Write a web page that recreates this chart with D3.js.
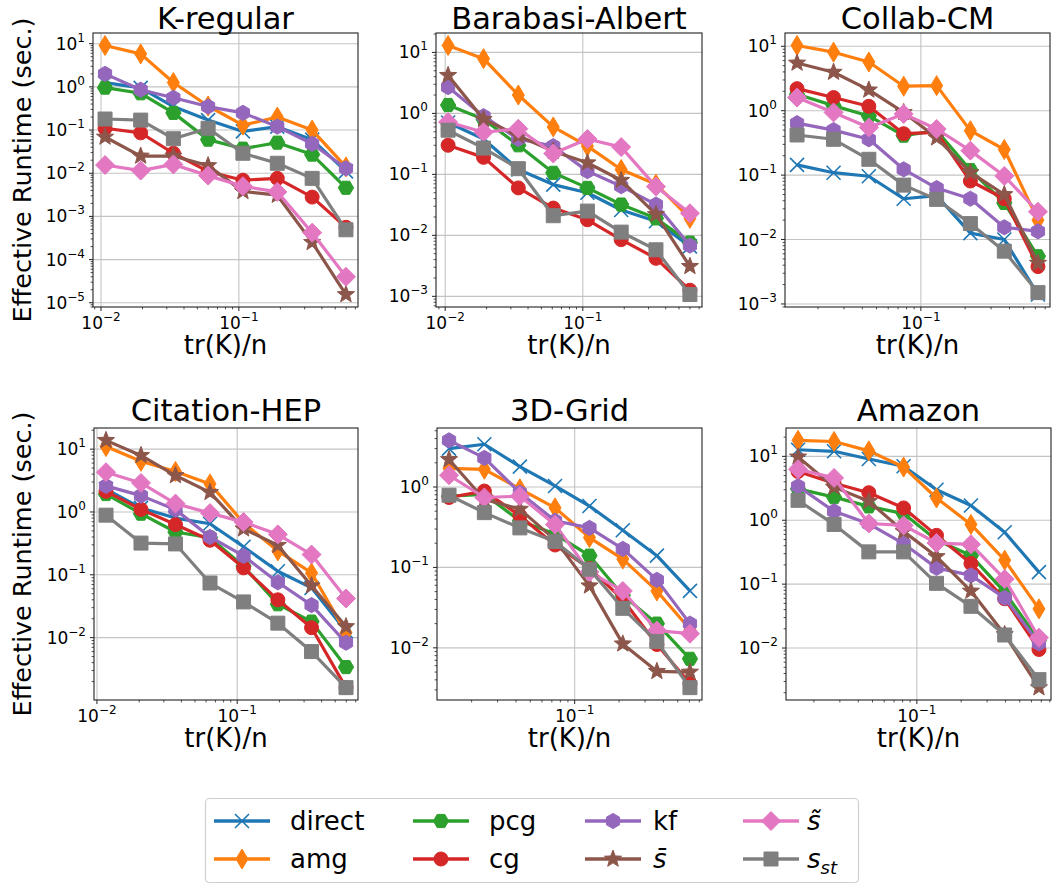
<!DOCTYPE html>
<html><head><meta charset="utf-8">
<script src="https://cdn.jsdelivr.net/npm/d3@7"></script>
<style>body{margin:0;background:#fff} text{font-family:"DejaVu Sans",sans-serif;fill:#000}</style>
</head><body><svg id="c" width="1055" height="886"></svg>
<script>
const seriesKeys = ["direct","amg","pcg","cg","kf","sbar","stilde","sst"];
const seriesColors = ["#1f77b4","#ff7f0e","#2ca02c","#d62728","#9467bd","#8c564b","#e377c2","#7f7f7f"];
const seriesMarkers = ["x","thinDiamond","hexFlat","circle","hexPointy","star","diamond","square"];
const panelTitles = ["K-regular","Barabasi-Albert","Collab-CM","Citation-HEP","3D-Grid","Amazon"];

const kRegular = {
  x:      [0.0107,0.0194,0.0335,0.0598,0.107,0.19,0.34,0.598],
  direct: [1.25,0.95,0.35,0.17,0.093,0.12,0.06,0.011],
  amg:    [9.1,5.8,1.26,0.36,0.13,0.2,0.1,0.014],
  pcg:    [0.96,0.71,0.25,0.06,0.037,0.051,0.027,0.0046],
  cg:     [0.11,0.086,0.029,0.011,0.0069,0.0076,0.0028,0.00056],
  kf:     [2.0,0.86,0.56,0.35,0.25,0.12,0.048,0.013],
  sbar:   [0.069,0.025,0.025,0.015,0.0038,0.0031,0.00025,0.0000155],
  stilde: [0.0155,0.0115,0.016,0.0088,0.005,0.0037,0.00042,0.00004],
  sst:    [0.18,0.17,0.063,0.11,0.029,0.017,0.0076,0.00049]
};
const barabasiAlbert = {
  x:      [0.0105,0.019,0.034,0.061,0.108,0.19,0.34,0.6],
  direct: [0.71,0.38,0.12,0.068,0.05,0.026,0.017,0.0066],
  amg:    [13,7.9,2.0,0.6,0.29,0.12,0.069,0.019],
  pcg:    [1.37,0.8,0.3,0.106,0.06,0.032,0.019,0.0076],
  cg:     [0.3,0.19,0.06,0.028,0.018,0.0085,0.0042,0.00126],
  kf:     [2.7,0.9,0.38,0.29,0.113,0.064,0.032,0.0068],
  sbar:   [4.2,0.8,0.43,0.24,0.155,0.08,0.022,0.0031],
  stilde: [0.72,0.49,0.56,0.22,0.38,0.28,0.063,0.023],
  sst:    [0.53,0.27,0.124,0.021,0.025,0.0113,0.0058,0.00107]
};
const collabCM = {
  x:      [0.0144,0.0255,0.0443,0.0764,0.128,0.217,0.369,0.625],
  direct: [0.144,0.109,0.096,0.043,0.048,0.0126,0.01,0.0014],
  amg:    [10.3,8.1,5.7,2.4,2.45,0.49,0.25,0.02],
  pcg:    [1.8,1.2,0.83,0.41,0.49,0.12,0.037,0.0055],
  cg:     [2.2,1.6,1.17,0.44,0.46,0.081,0.043,0.0038],
  kf:     [0.64,0.5,0.36,0.123,0.063,0.043,0.0155,0.0134],
  sbar:   [5.5,3.96,2.1,0.94,0.38,0.11,0.05,0.0043],
  stilde: [1.6,0.94,0.55,0.89,0.52,0.24,0.097,0.027],
  sst:    [0.42,0.36,0.176,0.07,0.042,0.0177,0.0066,0.0015]
};
const citationHEP = {
  x:      [0.0116,0.0206,0.0363,0.064,0.111,0.195,0.339,0.597],
  direct: [2.3,1.16,0.8,0.65,0.28,0.114,0.062,0.0126],
  amg:    [11,6.4,4.4,2.8,0.67,0.24,0.107,0.012],
  pcg:    [1.93,0.94,0.48,0.39,0.137,0.034,0.018,0.0034],
  cg:     [2.13,1.1,0.63,0.355,0.129,0.04,0.0144,0.0016],
  kf:     [2.6,1.82,1.09,0.4,0.2,0.076,0.033,0.0083],
  sbar:   [13.8,7.95,3.8,2.05,0.54,0.295,0.067,0.015],
  stilde: [4.3,2.9,1.36,0.96,0.69,0.44,0.21,0.042],
  sst:    [0.89,0.32,0.31,0.074,0.037,0.017,0.006,0.0016]
};
const grid3D = {
  x:      [0.01406,0.0244,0.0425,0.0736,0.126,0.212,0.361,0.605],
  direct: [3.0,3.4,1.79,1.03,0.58,0.29,0.14,0.051],
  amg:    [1.7,1.66,0.95,0.55,0.235,0.127,0.051,0.017],
  pcg:    [0.77,0.81,0.38,0.26,0.14,0.045,0.02,0.0073],
  cg:     [0.74,0.89,0.44,0.19,0.097,0.04,0.011,0.0036],
  kf:     [3.8,2.3,0.85,0.38,0.31,0.17,0.07,0.02],
  sbar:   [2.2,0.7,0.53,0.22,0.059,0.0112,0.0051,0.005],
  stilde: [1.4,0.74,0.77,0.34,0.088,0.051,0.0164,0.015],
  sst:    [0.79,0.48,0.31,0.21,0.095,0.031,0.012,0.0032]
};
const amazon = {
  x:      [0.0156,0.0274,0.0472,0.0813,0.136,0.233,0.395,0.675],
  direct: [12.7,12,9.1,7.0,3.0,1.7,0.65,0.154],
  amg:    [17.8,17.1,12.2,6.8,2.23,0.86,0.237,0.041],
  pcg:    [3.1,2.3,1.65,1.27,0.49,0.28,0.075,0.0133],
  cg:     [5.8,3.8,2.7,1.56,0.58,0.21,0.059,0.0095],
  kf:     [3.4,1.38,0.88,0.43,0.18,0.137,0.061,0.0118],
  sbar:   [9.8,3.3,1.98,0.67,0.27,0.078,0.0163,0.0024],
  stilde: [6.3,4.6,0.89,0.83,0.44,0.42,0.12,0.0145],
  sst:    [2.05,0.86,0.32,0.32,0.103,0.045,0.016,0.0032]
};
const panelData = [kRegular, barabasiAlbert, collabCM, citationHEP, grid3D, amazon];
const xLabel = "tr(K)/n";
const yLabel = "Effective Runtime (sec.)";

// ---------- layout ----------
const boxes = [
  {x:93, y:33, w:265, h:274},{x:436, y:33, w:266, h:274},{x:785, y:33, w:265, h:274},
  {x:94, y:428, w:264, h:272},{x:437, y:428, w:265, h:272},{x:786, y:428, w:265, h:272}
];
const svg = d3.select("#c");
const TICK_FS = 17, SUP_FS = 12;

function markerPath(type){
  const p = d3.path();
  if(type==="x"){ const r=7; p.moveTo(-r,-r);p.lineTo(r,r);p.moveTo(-r,r);p.lineTo(r,-r); }
  else if(type==="thinDiamond"){ const h=10,w=6; p.moveTo(0,-h);p.lineTo(w,0);p.lineTo(0,h);p.lineTo(-w,0);p.closePath(); }
  else if(type==="diamond"){ const h=9.5; p.moveTo(0,-h);p.lineTo(h,0);p.lineTo(0,h);p.lineTo(-h,0);p.closePath(); }
  else if(type==="square"){ const s=7; p.rect(-s,-s,2*s,2*s); }
  else if(type==="circle"){ p.arc(0,0,7,0,2*Math.PI); p.closePath(); }
  else if(type==="hexPointy"||type==="hexFlat"){ const R=7.6, off=type==="hexPointy"?-Math.PI/2:0;
    for(let k=0;k<6;k++){const a=off+k*Math.PI/3; if(k===0)p.moveTo(R*Math.cos(a),R*Math.sin(a)); else p.lineTo(R*Math.cos(a),R*Math.sin(a));} p.closePath(); }
  else if(type==="star"){ const R=9, r=3.8;
    for(let k=0;k<10;k++){const a=-Math.PI/2+k*Math.PI/5, rr=k%2?r:R; if(k===0)p.moveTo(rr*Math.cos(a),rr*Math.sin(a)); else p.lineTo(rr*Math.cos(a),rr*Math.sin(a));} p.closePath(); }
  return p.toString();
}
function drawMarker(g, type, color, x, y){
  const m = g.append("path").attr("d", markerPath(type)).attr("transform",`translate(${x},${y})`);
  if(type==="x") m.attr("fill","none").attr("stroke",color).attr("stroke-width",1.6);
  else m.attr("fill",color).attr("stroke",color).attr("stroke-width",1);
}
function supLabel(sel, exp){
  sel.append("tspan").text("10");
  sel.append("tspan").attr("font-size",SUP_FS).attr("dy",-8).text(exp<0?"\u2212"+(-exp):String(exp));
}
function logDomain(vals){
  const lo=Math.log10(d3.min(vals)), hi=Math.log10(d3.max(vals)), pad=(hi-lo)*0.05;
  return [Math.pow(10,lo-pad), Math.pow(10,hi+pad)];
}

panelData.forEach((pd, i) => {
  const b = boxes[i];
  const allY = seriesKeys.flatMap(k => pd[k]);
  const xs = d3.scaleLog().domain(logDomain(pd.x)).range([b.x, b.x+b.w]);
  const ys = d3.scaleLog().domain(logDomain(allY)).range([b.y+b.h, b.y]);
  const g = svg.append("g");
  const [x0,x1] = xs.domain(), [y0,y1] = ys.domain();
  const majX=[], minX=[], majY=[], minY=[];
  for(let d=Math.floor(Math.log10(x0)); d<=Math.ceil(Math.log10(x1)); d++){
    for(let k=1;k<10;k++){const v=k*Math.pow(10,d); if(v>=x0&&v<=x1)(k===1?majX:minX).push(v);} }
  for(let d=Math.floor(Math.log10(y0)); d<=Math.ceil(Math.log10(y1)); d++){
    for(let k=1;k<10;k++){const v=k*Math.pow(10,d); if(v>=y0&&v<=y1)(k===1?majY:minY).push(v);} }
  // grid
  majX.forEach(v=>g.append("line").attr("x1",xs(v)).attr("x2",xs(v)).attr("y1",b.y).attr("y2",b.y+b.h).attr("stroke","#c4c4c4").attr("stroke-width",1.1));
  majY.forEach(v=>g.append("line").attr("y1",ys(v)).attr("y2",ys(v)).attr("x1",b.x).attr("x2",b.x+b.w).attr("stroke","#c4c4c4").attr("stroke-width",1.1));
  // series
  const line = d3.line().x((d,j)=>xs(pd.x[j])).y(d=>ys(d));
  seriesKeys.forEach((k, si) => {
    g.append("path").attr("d", line(pd[k])).attr("fill","none").attr("stroke",seriesColors[si]).attr("stroke-width",3.2).attr("stroke-linejoin","round");
    pd[k].forEach((v,j)=>drawMarker(g, seriesMarkers[si], seriesColors[si], xs(pd.x[j]), ys(v)));
  });
  // frame
  g.append("rect").attr("x",b.x).attr("y",b.y).attr("width",b.w).attr("height",b.h).attr("fill","none").attr("stroke","#222").attr("stroke-width",1.1);
  // ticks
  const by=b.y+b.h;
  majX.forEach(v=>{ g.append("line").attr("x1",xs(v)).attr("x2",xs(v)).attr("y1",by).attr("y2",by+4).attr("stroke","#222").attr("stroke-width",1);
    const t=g.append("text").attr("x",xs(v)).attr("y",by+22).attr("text-anchor","middle").attr("font-size",TICK_FS); supLabel(t, Math.round(Math.log10(v))); });
  minX.forEach(v=>g.append("line").attr("x1",xs(v)).attr("x2",xs(v)).attr("y1",by).attr("y2",by+2.4).attr("stroke","#222").attr("stroke-width",0.8));
  majY.forEach(v=>{ g.append("line").attr("x1",b.x-4).attr("x2",b.x).attr("y1",ys(v)).attr("y2",ys(v)).attr("stroke","#222").attr("stroke-width",1);
    const t=g.append("text").attr("x",b.x-8).attr("y",ys(v)+6).attr("text-anchor","end").attr("font-size",TICK_FS); supLabel(t, Math.round(Math.log10(v))); });
  minY.forEach(v=>g.append("line").attr("x1",b.x-2.4).attr("x2",b.x).attr("y1",ys(v)).attr("y2",ys(v)).attr("stroke","#222").attr("stroke-width",0.8));
  // titles & labels
  g.append("text").attr("x",b.x+b.w/2).attr("y",i<3?28.5:421).attr("text-anchor","middle").attr("font-size",30.5).text(panelTitles[i]);
  g.append("text").attr("x",b.x+b.w/2).attr("y",by+47).attr("text-anchor","middle").attr("font-size",26).text(xLabel);
  if(i%3===0) g.append("text").attr("transform",`translate(31,${b.y+b.h/2}) rotate(-90)`).attr("text-anchor","middle").attr("font-size",25.5).text(yLabel);
});

// ---------- legend ----------
const lg = svg.append("g");
lg.append("rect").attr("x",205.5).attr("y",798.5).attr("width",653).attr("height",84).attr("rx",4).attr("fill","#fff").attr("stroke","#cfcfcf").attr("stroke-width",1.2);
const legCols = [214, 413, 585, 743];
const legText = [290, 489, 653, 807];
const legRows = [821, 859];
seriesKeys.forEach((k, si) => {
  const c = Math.floor(si/2), cx = legCols[c], cy = legRows[si%2];
  lg.append("line").attr("x1",cx).attr("x2",cx+56).attr("y1",cy).attr("y2",cy).attr("stroke",seriesColors[si]).attr("stroke-width",3.6);
  drawMarker(lg, seriesMarkers[si], seriesColors[si], cx+28, cy);
  const t = lg.append("text").attr("x",legText[c]).attr("y",cy+9).attr("font-size",26);
  if(k==="sbar") t.append("tspan").attr("font-style","italic").text("s\u0304");
  else if(k==="stilde") t.append("tspan").attr("font-style","italic").text("s\u0303");
  else if(k==="sst"){ t.append("tspan").attr("font-style","italic").text("s"); t.append("tspan").attr("font-style","italic").attr("font-size",18).attr("dy",6).text("st"); }
  else t.text(k);
});
</script></body></html>
